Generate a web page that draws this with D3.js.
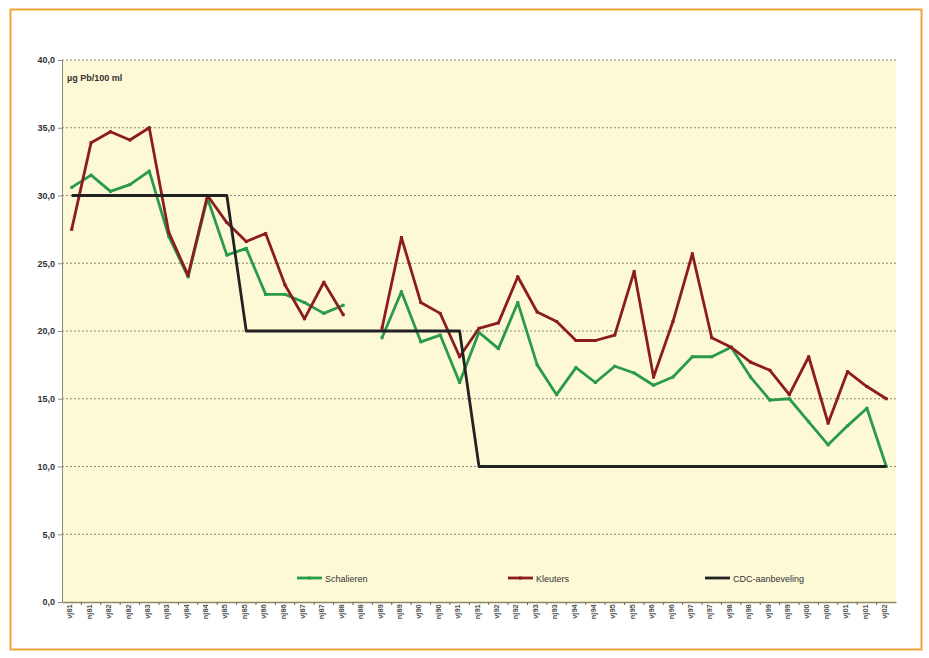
<!DOCTYPE html>
<html>
<head>
<meta charset="utf-8">
<script src="https://cdn.jsdelivr.net/npm/d3@7"></script>
<style>
  body { margin: 0; background: #fff; }
  svg { display: block; font-family: "Liberation Sans", Arial, sans-serif; }
</style>
</head>
<body>
<svg id="chart" width="929" height="658"></svg>
<script>
// half-year periods: vj = voorjaar, nj = najaar
const periods = [];
for (let yr = 81; yr <= 102; yr++) {
  const yy = String(yr % 100).padStart(2, "0");
  periods.push("vj" + yy);
  if (yr < 102) periods.push("nj" + yy);
}

const schalieren = [30.6, 31.5, 30.3, 30.8, 31.8, 27.0, 24.0, 29.8, 25.6, 26.1,
  22.7, 22.7, 22.1, 21.3, 21.9, null, 19.5, 22.9, 19.2, 19.7,
  16.2, 19.9, 18.7, 22.1, 17.5, 15.3, 17.3, 16.2, 17.4, 16.9,
  16.0, 16.6, 18.1, 18.1, 18.8, 16.6, 14.9, 15.0, 13.3, 11.6,
  13.0, 14.3, 10.0];

const kleuters = [27.5, 33.9, 34.7, 34.1, 35.0, 27.3, 24.1, 30.0, 28.0, 26.6,
  27.2, 23.4, 20.9, 23.6, 21.2, null, 20.2, 26.9, 22.1, 21.3,
  18.1, 20.2, 20.6, 24.0, 21.4, 20.7, 19.3, 19.3, 19.7, 24.4,
  16.6, 20.7, 25.7, 19.5, 18.8, 17.7, 17.1, 15.3, 18.1, 13.2,
  17.0, 15.9, 15.0];

const cdc = [30, 30, 30, 30, 30, 30, 30, 30, 30, 20,
  20, 20, 20, 20, 20, 20, 20, 20, 20, 20,
  20, 10, 10, 10, 10, 10, 10, 10, 10, 10,
  10, 10, 10, 10, 10, 10, 10, 10, 10, 10,
  10, 10, 10];

const yTicks = [0, 5, 10, 15, 20, 25, 30, 35, 40];

const series = [
  { name: "Schalieren", values: schalieren, color: "#2a9b48" },
  { name: "Kleuters", values: kleuters, color: "#8c1c22" },
  { name: "CDC-aanbeveling", values: cdc, color: "#222222" }
];

const svg = d3.select("#chart");

// orange frame
svg.append("rect")
  .attr("x", 10.5).attr("y", 9.5)
  .attr("width", 911).attr("height", 640)
  .attr("fill", "#fff")
  .attr("stroke", "#f4a338")
  .attr("stroke-width", 2);

const plot = { left: 62, right: 896, top: 60, bottom: 602 };

const x = d3.scaleBand().domain(periods).range([plot.left, plot.right]);
const y = d3.scaleLinear().domain([0, 40]).range([plot.bottom, plot.top]);
const cx = d => x(d) + x.bandwidth() / 2;

svg.append("rect")
  .attr("x", plot.left).attr("y", plot.top)
  .attr("width", plot.right - plot.left).attr("height", plot.bottom - plot.top)
  .attr("fill", "#fdf9d6");

// gridlines
svg.append("g")
  .selectAll("line")
  .data(yTicks.filter(t => t > 0))
  .join("line")
  .attr("x1", plot.left).attr("x2", plot.right)
  .attr("y1", d => y(d)).attr("y2", d => y(d))
  .attr("stroke", "#8a8a7a")
  .attr("stroke-width", 1)
  .attr("stroke-dasharray", "2,2");

// y axis
const yAxis = svg.append("g")
  .attr("transform", `translate(${plot.left},0)`)
  .call(d3.axisLeft(y).tickValues(yTicks).tickSize(4).tickFormat(d => d3.format(".1f")(d).replace(".", ",")));
yAxis.select(".domain").attr("stroke", "#8a8a80");
yAxis.selectAll(".tick line").attr("stroke", "#8a8a80");
yAxis.selectAll("text").attr("font-size", 9).attr("fill", "#333").attr("font-weight", "bold");

// x axis
const xAxis = svg.append("g")
  .attr("transform", `translate(0,${plot.bottom})`)
  .call(d3.axisBottom(x).tickSize(0).tickPadding(4));
xAxis.select(".domain").attr("stroke", "#8c8a60").attr("stroke-width", 1.5);
xAxis.selectAll("text")
  .attr("font-size", 7.5)
  .attr("font-weight", "bold")
  .attr("fill", "#555")
  .attr("text-anchor", "end")
  .attr("dx", "-0.3em")
  .attr("dy", "-0.45em")
  .attr("transform", "rotate(-90)");

// small tick marks between categories
svg.append("g")
  .selectAll("line")
  .data(periods.slice(1))
  .join("line")
  .attr("x1", d => x(d)).attr("x2", d => x(d))
  .attr("y1", plot.bottom).attr("y2", plot.bottom + 3)
  .attr("stroke", "#6a6a60");

// unit label
svg.append("text")
  .attr("x", plot.left + 5).attr("y", 81)
  .attr("font-size", 9)
  .attr("font-weight", "bold")
  .attr("fill", "#333")
  .text("µg Pb/100 ml");

const line = d3.line()
  .defined(d => d.v != null)
  .x(d => cx(d.p))
  .y(d => y(d.v));

series.forEach(s => {
  const pts = s.values.map((v, i) => ({ p: periods[i], v }));
  svg.append("path")
    .datum(pts)
    .attr("fill", "none")
    .attr("stroke", s.color)
    .attr("stroke-width", 2.8)
    .attr("stroke-linejoin", "round")
    .attr("d", line);
  if (s.name !== "CDC-aanbeveling") {
    svg.append("g")
      .selectAll("rect")
      .data(pts.filter(d => d.v != null))
      .join("rect")
      .attr("x", d => cx(d.p) - 1.5).attr("y", d => y(d.v) - 1.5)
      .attr("width", 3).attr("height", 3)
      .attr("fill", s.color);
  }
});

// legend
const legendX = [297, 508, 705];
const legend = svg.append("g");
series.forEach((s, i) => {
  const g = legend.append("g").attr("transform", `translate(${legendX[i]},578)`);
  g.append("line")
    .attr("x1", 0).attr("x2", 25)
    .attr("stroke", s.color).attr("stroke-width", 2.8);
  if (i < 2) {
    g.append("rect").attr("x", 11).attr("y", -1.5).attr("width", 3).attr("height", 3).attr("fill", s.color);
  }
  g.append("text")
    .attr("x", 28).attr("y", 3.5)
    .attr("font-size", 9)
    .attr("fill", "#333")
    .text(s.name);
});
</script>
</body>
</html>
